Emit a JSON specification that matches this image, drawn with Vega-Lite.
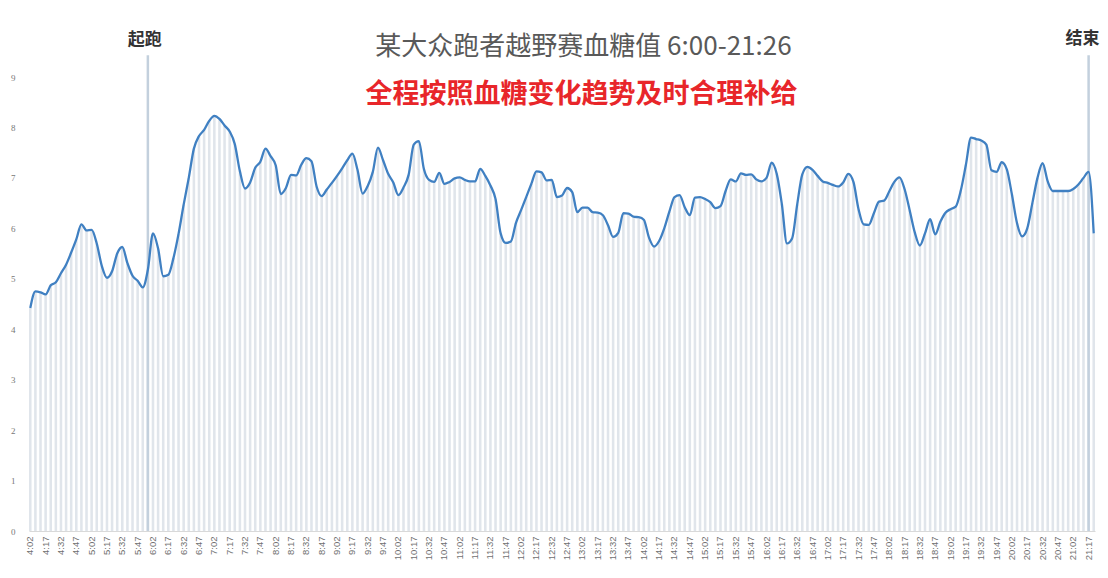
{
  "$schema": "https://vega.github.io/schema/vega-lite/v6.json",
  "width": 1066,
  "height": 454,
  "autosize": {"type": "none"},
  "padding": {"left": 29, "top": 77, "right": 13, "bottom": 47},
  "background": "white",
  "config": {"view": {"stroke": null}, "font": "Noto Sans CJK SC"},
  "data": {"values": [
    {"time": "4:02", "glucose": 4.42}, {"time": "4:07", "glucose": 4.75}, {"time": "4:12", "glucose": 4.73}, {"time": "4:17", "glucose": 4.69}, {"time": "4:22", "glucose": 4.87}, {"time": "4:27", "glucose": 4.93}, {"time": "4:32", "glucose": 5.11}, {"time": "4:37", "glucose": 5.28}, {"time": "4:42", "glucose": 5.52}, {"time": "4:47", "glucose": 5.78}, {"time": "4:52", "glucose": 6.08}, {"time": "4:57", "glucose": 5.96},
    {"time": "5:02", "glucose": 5.97}, {"time": "5:07", "glucose": 5.70}, {"time": "5:12", "glucose": 5.25}, {"time": "5:17", "glucose": 5.02}, {"time": "5:22", "glucose": 5.15}, {"time": "5:27", "glucose": 5.50}, {"time": "5:32", "glucose": 5.63}, {"time": "5:37", "glucose": 5.31}, {"time": "5:42", "glucose": 5.06}, {"time": "5:47", "glucose": 4.96}, {"time": "5:52", "glucose": 4.83}, {"time": "5:57", "glucose": 5.18},
    {"time": "6:02", "glucose": 5.90}, {"time": "6:07", "glucose": 5.60}, {"time": "6:12", "glucose": 5.05}, {"time": "6:17", "glucose": 5.08}, {"time": "6:22", "glucose": 5.41}, {"time": "6:27", "glucose": 5.89}, {"time": "6:32", "glucose": 6.47}, {"time": "6:37", "glucose": 7.00}, {"time": "6:42", "glucose": 7.58}, {"time": "6:47", "glucose": 7.83}, {"time": "6:52", "glucose": 7.95}, {"time": "6:57", "glucose": 8.13},
    {"time": "7:02", "glucose": 8.23}, {"time": "7:07", "glucose": 8.17}, {"time": "7:12", "glucose": 8.04}, {"time": "7:17", "glucose": 7.92}, {"time": "7:22", "glucose": 7.67}, {"time": "7:27", "glucose": 7.13}, {"time": "7:32", "glucose": 6.79}, {"time": "7:37", "glucose": 6.91}, {"time": "7:42", "glucose": 7.20}, {"time": "7:47", "glucose": 7.32}, {"time": "7:52", "glucose": 7.58}, {"time": "7:57", "glucose": 7.43},
    {"time": "8:02", "glucose": 7.25}, {"time": "8:07", "glucose": 6.68}, {"time": "8:12", "glucose": 6.80}, {"time": "8:17", "glucose": 7.06}, {"time": "8:22", "glucose": 7.05}, {"time": "8:27", "glucose": 7.26}, {"time": "8:32", "glucose": 7.39}, {"time": "8:37", "glucose": 7.33}, {"time": "8:42", "glucose": 6.83}, {"time": "8:47", "glucose": 6.64}, {"time": "8:52", "glucose": 6.77}, {"time": "8:57", "glucose": 6.90},
    {"time": "9:02", "glucose": 7.04}, {"time": "9:07", "glucose": 7.19}, {"time": "9:12", "glucose": 7.35}, {"time": "9:17", "glucose": 7.48}, {"time": "9:22", "glucose": 7.16}, {"time": "9:27", "glucose": 6.69}, {"time": "9:32", "glucose": 6.84}, {"time": "9:37", "glucose": 7.12}, {"time": "9:42", "glucose": 7.60}, {"time": "9:47", "glucose": 7.35}, {"time": "9:52", "glucose": 7.08}, {"time": "9:57", "glucose": 6.91},
    {"time": "10:02", "glucose": 6.66}, {"time": "10:07", "glucose": 6.81}, {"time": "10:12", "glucose": 7.06}, {"time": "10:17", "glucose": 7.66}, {"time": "10:22", "glucose": 7.73}, {"time": "10:27", "glucose": 7.17}, {"time": "10:32", "glucose": 6.96}, {"time": "10:37", "glucose": 6.92}, {"time": "10:42", "glucose": 7.10}, {"time": "10:47", "glucose": 6.88}, {"time": "10:52", "glucose": 6.92}, {"time": "10:57", "glucose": 6.99},
    {"time": "11:02", "glucose": 7.01}, {"time": "11:07", "glucose": 6.96}, {"time": "11:12", "glucose": 6.93}, {"time": "11:17", "glucose": 6.93}, {"time": "11:22", "glucose": 7.18}, {"time": "11:27", "glucose": 7.04}, {"time": "11:32", "glucose": 6.85}, {"time": "11:37", "glucose": 6.58}, {"time": "11:42", "glucose": 5.90}, {"time": "11:47", "glucose": 5.71}, {"time": "11:52", "glucose": 5.74}, {"time": "11:57", "glucose": 6.11},
    {"time": "12:02", "glucose": 6.36}, {"time": "12:07", "glucose": 6.62}, {"time": "12:12", "glucose": 6.88}, {"time": "12:17", "glucose": 7.13}, {"time": "12:22", "glucose": 7.11}, {"time": "12:27", "glucose": 6.95}, {"time": "12:32", "glucose": 6.96}, {"time": "12:37", "glucose": 6.62}, {"time": "12:42", "glucose": 6.65}, {"time": "12:47", "glucose": 6.80}, {"time": "12:52", "glucose": 6.72}, {"time": "12:57", "glucose": 6.32},
    {"time": "13:02", "glucose": 6.41}, {"time": "13:07", "glucose": 6.41}, {"time": "13:12", "glucose": 6.32}, {"time": "13:17", "glucose": 6.31}, {"time": "13:22", "glucose": 6.26}, {"time": "13:27", "glucose": 6.06}, {"time": "13:32", "glucose": 5.83}, {"time": "13:37", "glucose": 5.91}, {"time": "13:42", "glucose": 6.30}, {"time": "13:47", "glucose": 6.29}, {"time": "13:52", "glucose": 6.23}, {"time": "13:57", "glucose": 6.22},
    {"time": "14:02", "glucose": 6.17}, {"time": "14:07", "glucose": 5.82}, {"time": "14:12", "glucose": 5.64}, {"time": "14:17", "glucose": 5.75}, {"time": "14:22", "glucose": 6.00}, {"time": "14:27", "glucose": 6.33}, {"time": "14:32", "glucose": 6.62}, {"time": "14:37", "glucose": 6.66}, {"time": "14:42", "glucose": 6.42}, {"time": "14:47", "glucose": 6.26}, {"time": "14:52", "glucose": 6.61}, {"time": "14:57", "glucose": 6.62},
    {"time": "15:02", "glucose": 6.58}, {"time": "15:07", "glucose": 6.52}, {"time": "15:12", "glucose": 6.40}, {"time": "15:17", "glucose": 6.44}, {"time": "15:22", "glucose": 6.74}, {"time": "15:27", "glucose": 6.97}, {"time": "15:32", "glucose": 6.93}, {"time": "15:37", "glucose": 7.09}, {"time": "15:42", "glucose": 7.06}, {"time": "15:47", "glucose": 7.07}, {"time": "15:52", "glucose": 6.97}, {"time": "15:57", "glucose": 6.93},
    {"time": "16:02", "glucose": 7.00}, {"time": "16:07", "glucose": 7.30}, {"time": "16:12", "glucose": 7.08}, {"time": "16:17", "glucose": 6.48}, {"time": "16:22", "glucose": 5.70}, {"time": "16:27", "glucose": 5.80}, {"time": "16:32", "glucose": 6.47}, {"time": "16:37", "glucose": 7.07}, {"time": "16:42", "glucose": 7.22}, {"time": "16:47", "glucose": 7.16}, {"time": "16:52", "glucose": 7.04}, {"time": "16:57", "glucose": 6.93},
    {"time": "17:02", "glucose": 6.90}, {"time": "17:07", "glucose": 6.86}, {"time": "17:12", "glucose": 6.83}, {"time": "17:17", "glucose": 6.91}, {"time": "17:22", "glucose": 7.08}, {"time": "17:27", "glucose": 6.92}, {"time": "17:32", "glucose": 6.38}, {"time": "17:37", "glucose": 6.08}, {"time": "17:42", "glucose": 6.07}, {"time": "17:47", "glucose": 6.30}, {"time": "17:52", "glucose": 6.53}, {"time": "17:57", "glucose": 6.55},
    {"time": "18:02", "glucose": 6.73}, {"time": "18:07", "glucose": 6.92}, {"time": "18:12", "glucose": 7.01}, {"time": "18:17", "glucose": 6.78}, {"time": "18:22", "glucose": 6.36}, {"time": "18:27", "glucose": 5.92}, {"time": "18:32", "glucose": 5.66}, {"time": "18:37", "glucose": 5.90}, {"time": "18:42", "glucose": 6.18}, {"time": "18:47", "glucose": 5.88}, {"time": "18:52", "glucose": 6.13}, {"time": "18:57", "glucose": 6.31},
    {"time": "19:02", "glucose": 6.38}, {"time": "19:07", "glucose": 6.43}, {"time": "19:12", "glucose": 6.75}, {"time": "19:17", "glucose": 7.26}, {"time": "19:22", "glucose": 7.80}, {"time": "19:27", "glucose": 7.77}, {"time": "19:32", "glucose": 7.74}, {"time": "19:37", "glucose": 7.66}, {"time": "19:42", "glucose": 7.15}, {"time": "19:47", "glucose": 7.12}, {"time": "19:52", "glucose": 7.31}, {"time": "19:57", "glucose": 7.17},
    {"time": "20:02", "glucose": 6.67}, {"time": "20:07", "glucose": 6.10}, {"time": "20:12", "glucose": 5.84}, {"time": "20:17", "glucose": 6.00}, {"time": "20:22", "glucose": 6.50}, {"time": "20:27", "glucose": 7.00}, {"time": "20:32", "glucose": 7.29}, {"time": "20:37", "glucose": 6.93}, {"time": "20:42", "glucose": 6.74}, {"time": "20:47", "glucose": 6.74}, {"time": "20:52", "glucose": 6.74}, {"time": "20:57", "glucose": 6.74},
    {"time": "21:02", "glucose": 6.78}, {"time": "21:07", "glucose": 6.87}, {"time": "21:12", "glucose": 7.00}, {"time": "21:17", "glucose": 7.12}, {"time": "21:22", "glucose": 5.90}
  ]},
  "encoding": {
    "x": {
      "field": "time", "type": "ordinal", "sort": null,
      "scale": {"paddingInner": 0.5, "paddingOuter": 0},
      "axis": {
        "title": null, "labelAngle": -90, "labelOverlap": false, "ticks": false,
        "labelExpr": "indexof(['02','17','32','47'], slice(datum.value, -2)) >= 0 ? datum.value : ''",
        "labelFontSize": 9.5, "labelColor": "#707070", "labelFont": "Liberation Sans",
        "labelPadding": 5, "domainColor": "#d9d9d9"
      }
    }
  },
  "layer": [
    {
      "mark": {"type": "bar", "color": "#e0e5eb"},
      "encoding": {
        "y": {
          "field": "glucose", "type": "quantitative",
          "scale": {"domain": [0, 9]},
          "axis": {"title": null, "values": [0,1,2,3,4,5,6,7,8,9], "grid": false, "ticks": false, "domain": false,
                   "labelFontSize": 9, "labelColor": "#777777", "labelFont": "Liberation Serif", "labelPadding": 14}
        }
      }
    },
    {
      "data": {"values": [{}]},
      "mark": {"type": "rule", "color": "#c3d0dd", "strokeWidth": 2.5},
      "encoding": {"x": {"datum": "5:57", "type": "ordinal"}, "y": {"datum": 0, "type": "quantitative"}, "y2": {"datum": 9.43}}
    },
    {
      "data": {"values": [{}]},
      "mark": {"type": "rule", "color": "#c3d0dd", "strokeWidth": 2.5},
      "encoding": {"x": {"datum": "21:17", "type": "ordinal"}, "y": {"datum": 0, "type": "quantitative"}, "y2": {"datum": 9.43}}
    },
    {
      "mark": {"type": "line", "color": "#4080c2", "strokeWidth": 2.3, "interpolate": "monotone"},
      "encoding": {"y": {"field": "glucose", "type": "quantitative"}}
    },
    {
      "data": {"values": [{}]},
      "mark": {"type": "text", "text": "起跑", "fontSize": 17, "fontWeight": "bold", "color": "#333333", "baseline": "middle", "align": "center", "dx": -3},
      "encoding": {"x": {"datum": "5:57", "type": "ordinal"}, "y": {"datum": 9.73, "type": "quantitative"}}
    },
    {
      "data": {"values": [{}]},
      "mark": {"type": "text", "text": "结束", "fontSize": 17, "fontWeight": "bold", "color": "#333333", "baseline": "middle", "align": "center", "dx": -6},
      "encoding": {"x": {"datum": "21:17", "type": "ordinal"}, "y": {"datum": 9.75, "type": "quantitative"}}
    },
    {
      "data": {"values": [{}]},
      "mark": {"type": "text", "text": "某大众跑者越野赛血糖值 6:00-21:26", "fontSize": 26, "fontWeight": "normal", "color": "#595959", "baseline": "middle", "align": "center", "dx": 1},
      "encoding": {"x": {"datum": "13:02", "type": "ordinal"}, "y": {"datum": 9.594, "type": "quantitative"}}
    },
    {
      "data": {"values": [{}]},
      "mark": {"type": "text", "text": "全程按照血糖变化趋势及时合理补给", "fontSize": 27, "fontWeight": "bold", "color": "#e8262a", "baseline": "middle", "align": "center", "dx": -1},
      "encoding": {"x": {"datum": "13:02", "type": "ordinal"}, "y": {"datum": 8.634, "type": "quantitative"}}
    }
  ]
}
